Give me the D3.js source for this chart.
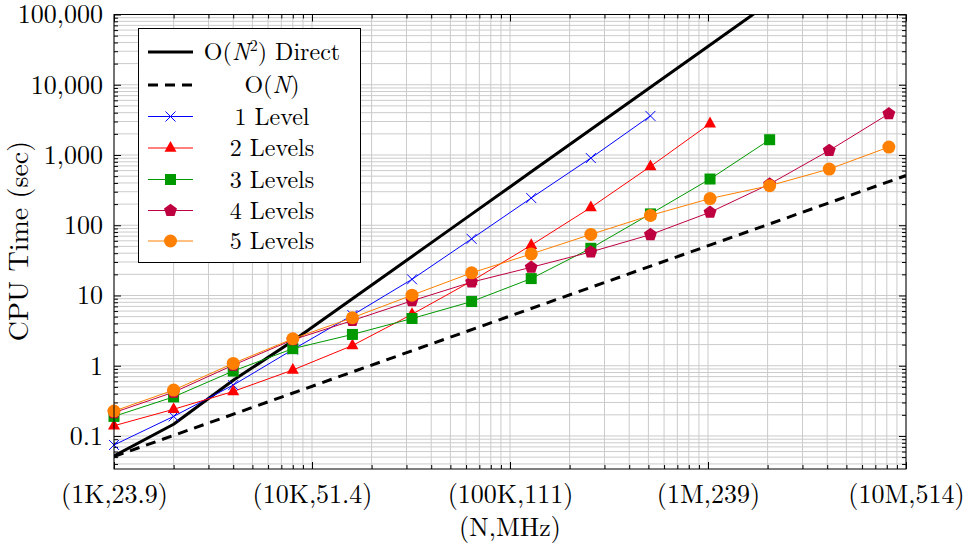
<!DOCTYPE html>
<html><head><meta charset="utf-8">
<script src="https://cdn.jsdelivr.net/npm/d3@7"></script>
<style>
body{margin:0;background:#fff}
svg{display:block}
</style>
</head><body><svg id="c" width="964" height="548"></svg>
<script>
// ---------- data ----------
const problemSizes = [1000,2000,4000,8000,16000,32000,64000,128000,256000,512000,1024000,2048000,4096000,8192000];
const directTime = [0.052,0.147,0.62,2.25,9,36,144,576,2304,9216,36864,147456];
const linearRefN = [1000,10000000];
const linearRefTime = [0.051,510];
const level1Time = [0.0745,0.19,0.53,1.7,5.25,17,64,244,904,3600];
const level2Time = [0.14,0.24,0.43,0.87,1.94,5.4,16,52,179,687,2800];
const level3Time = [0.19,0.36,0.84,1.75,2.79,4.7,8.2,17.4,47,145,455,1650];
const level4Time = [0.215,0.42,1.02,2.34,4.4,8.4,15.5,25.2,41.7,73.5,153,386,1160,3855];
const level5Time = [0.226,0.45,1.08,2.42,4.82,10.1,21,39,74,138,240,366,631,1297];
const seriesNames = ["1 Level","2 Levels","3 Levels","4 Levels","5 Levels"];
const xTickValues = [1e3,1e4,1e5,1e6,1e7];
const xTickLabels = ["(1K,23.9)","(10K,51.4)","(100K,111)","(1M,239)","(10M,514)"];
const yTickValues = [0.1,1,10,100,1000,10000,100000];
const yTickLabels = ["0.1","1","10","100","1,000","10,000","100,000"];
const xTitle = "(N,MHz)";
const yTitle = "CPU Time (sec)";

// ---------- layout ----------
const FONT = '"Latin Modern Roman", "Liberation Serif", serif';
const L = 114, R = 906, T = 14.5, B = 469;
const svg = d3.select("#c");
const x = d3.scaleLog().domain([1e3,1e7]).range([L,R]);
const y = d3.scaleLog().domain([Math.pow(10,-1.47),1e5]).range([B,T]);

const xMinor = [], yMinor = [];
for (let d=1e3; d<1e7; d*=10) for (let m=2;m<=9;m++) xMinor.push(d*m);
for (let d=0.01; d<1e5; d*=10) for (let m=2;m<=9;m++){ const v=d*m; if (v>=y.domain()[0]) yMinor.push(v); }

// grid
const grid = svg.append("g").attr("stroke","#cbcbcb").attr("stroke-width",1);
grid.selectAll(".gx").data(xMinor.concat(xTickValues)).join("line")
  .attr("x1",d=>x(d)).attr("x2",d=>x(d)).attr("y1",T).attr("y2",B);
grid.selectAll(".gy").data(yMinor.concat(yTickValues)).join("line")
  .attr("x1",L).attr("x2",R).attr("y1",d=>y(d)).attr("y2",d=>y(d));

function styleAxis(g){ g.attr("font-family",null); g.select(".domain").remove(); g.selectAll(".tick line").attr("stroke","#000").attr("stroke-width",1); }
const fs = 26;
svg.append("g").attr("transform",`translate(0,${B})`)
  .call(d3.axisBottom(x).tickValues(xTickValues).tickFormat((d,i)=>xTickLabels[i]).tickSize(-7))
  .call(styleAxis)
  .call(g=>g.selectAll("text").attr("y",25).attr("dy","0.35em").attr("font-size",fs).style("font-family",FONT));
svg.append("g").attr("transform",`translate(0,${B})`)
  .call(d3.axisBottom(x).tickValues(xMinor).tickFormat("").tickSize(-4)).call(styleAxis);
svg.append("g").attr("transform",`translate(0,${T})`)
  .call(d3.axisTop(x).tickValues(xTickValues).tickFormat("").tickSize(-7)).call(styleAxis);
svg.append("g").attr("transform",`translate(0,${T})`)
  .call(d3.axisTop(x).tickValues(xMinor).tickFormat("").tickSize(-4)).call(styleAxis);
svg.append("g").attr("transform",`translate(${L},0)`)
  .call(d3.axisLeft(y).tickValues(yTickValues).tickFormat((d,i)=>yTickLabels[i]).tickSize(-7).tickPadding(11))
  .call(styleAxis)
  .call(g=>g.selectAll("text").attr("font-size",fs).style("font-family",FONT));
svg.append("g").attr("transform",`translate(${L},0)`)
  .call(d3.axisLeft(y).tickValues(yMinor).tickFormat("").tickSize(-4)).call(styleAxis);
svg.append("g").attr("transform",`translate(${R},0)`)
  .call(d3.axisRight(y).tickValues(yTickValues).tickFormat("").tickSize(-7)).call(styleAxis);
svg.append("g").attr("transform",`translate(${R},0)`)
  .call(d3.axisRight(y).tickValues(yMinor).tickFormat("").tickSize(-4)).call(styleAxis);

// clip
svg.append("clipPath").attr("id","clip").append("rect").attr("x",L).attr("y",T).attr("width",R-L).attr("height",B-T);
const line = d3.line().x(d=>x(d[0])).y(d=>y(d[1]));
const plotG = svg.append("g");
const clipG = plotG.append("g").attr("clip-path","url(#clip)");

clipG.append("path").datum(directTime.map((v,i)=>[problemSizes[i],v]))
  .attr("d",line).attr("fill","none").attr("stroke","#000").attr("stroke-width",3).attr("stroke-linejoin","round");
clipG.append("path").datum(linearRefTime.map((v,i)=>[linearRefN[i],v]))
  .attr("d",line).attr("fill","none").attr("stroke","#000").attr("stroke-width",3).attr("stroke-dasharray","10,7");

const markers = {
  cross:(g,c)=>g.append("path").attr("d","M-5,-5L5,5M-5,5L5,-5").attr("stroke",c).attr("stroke-width",1).attr("fill","none"),
  tri:(g,c)=>g.append("path").attr("d","M0,-7L6,3.8L-6,3.8Z").attr("fill",c),
  square:(g,c)=>g.append("rect").attr("x",-5.5).attr("y",-5.5).attr("width",11).attr("height",11).attr("fill",c),
  penta:(g,c)=>g.append("path").attr("d",d3.range(5).map((k,i)=>{const a=-Math.PI/2+k*2*Math.PI/5;return (i?"L":"M")+(6.8*Math.cos(a)).toFixed(2)+","+(6.8*Math.sin(a)).toFixed(2);}).join("")+"Z").attr("fill",c),
  circle:(g,c)=>g.append("circle").attr("r",6.5).attr("fill",c)
};
const seriesData = [level1Time,level2Time,level3Time,level4Time,level5Time];
const colors = ["#0000ff","#ff0000","#009900","#bf0040","#ff8000"];
const shapes = ["cross","tri","square","penta","circle"];
seriesData.forEach((vals,s)=>{
  const pts = vals.map((v,i)=>[problemSizes[i],v]);
  clipG.append("path").datum(pts).attr("d",line).attr("fill","none").attr("stroke",colors[s]).attr("stroke-width",1);
  const mg = plotG.append("g");
  pts.forEach(p=>{ const g=mg.append("g").attr("transform",`translate(${x(p[0])},${y(p[1])})`); markers[shapes[s]](g,colors[s]); });
});

svg.append("rect").attr("x",L).attr("y",T).attr("width",R-L).attr("height",B-T).attr("fill","none").attr("stroke","#000").attr("stroke-width",1);

// legend
const lg = svg.append("g");
lg.append("rect").attr("x",138.5).attr("y",28.5).attr("width",222).attr("height",234).attr("fill","#fff").attr("stroke","#000").attr("stroke-width",1);
const rowY = [52,85,116.5,148,179.5,210.5,241];
const lx1 = 148, lx2 = 193, tx = 272, lfs = 24;
lg.append("line").attr("x1",lx1).attr("x2",lx2).attr("y1",rowY[0]).attr("y2",rowY[0]).attr("stroke","#000").attr("stroke-width",3);
lg.append("line").attr("x1",lx1).attr("x2",lx2).attr("y1",rowY[1]).attr("y2",rowY[1]).attr("stroke","#000").attr("stroke-width",3).attr("stroke-dasharray","10,7");
function txt(g){ return g.append("text").style("font-family",FONT).attr("fill","#000"); }
const t0 = txt(lg).attr("x",tx).attr("y",rowY[0]).attr("dy","0.35em").attr("text-anchor","middle").attr("font-size",lfs);
t0.append("tspan").text("O(");
t0.append("tspan").attr("font-style","italic").text("N");
t0.append("tspan").attr("dy",-9).attr("font-size",16).text("2");
t0.append("tspan").attr("dy",9).text(") Direct");
const t1 = txt(lg).attr("x",tx).attr("y",rowY[1]).attr("dy","0.35em").attr("text-anchor","middle").attr("font-size",lfs);
t1.append("tspan").text("O(");
t1.append("tspan").attr("font-style","italic").text("N");
t1.append("tspan").text(")");
seriesNames.forEach((name,s)=>{
  const yy = rowY[s+2];
  lg.append("line").attr("x1",lx1).attr("x2",lx2).attr("y1",yy).attr("y2",yy).attr("stroke",colors[s]).attr("stroke-width",1);
  const g = lg.append("g").attr("transform",`translate(${(lx1+lx2)/2},${yy})`);
  markers[shapes[s]](g,colors[s]);
  txt(lg).attr("x",tx).attr("y",yy).attr("dy","0.35em").attr("text-anchor","middle").attr("font-size",lfs).text(name);
});

txt(svg).attr("x",(L+R)/2).attr("y",527).attr("dy","0.35em").attr("text-anchor","middle").attr("font-size",26).text(xTitle);
txt(svg).attr("transform","translate(18,241) rotate(-90)").attr("dy","0.35em").attr("text-anchor","middle").attr("font-size",28).text(yTitle);
</script>
</body></html>
